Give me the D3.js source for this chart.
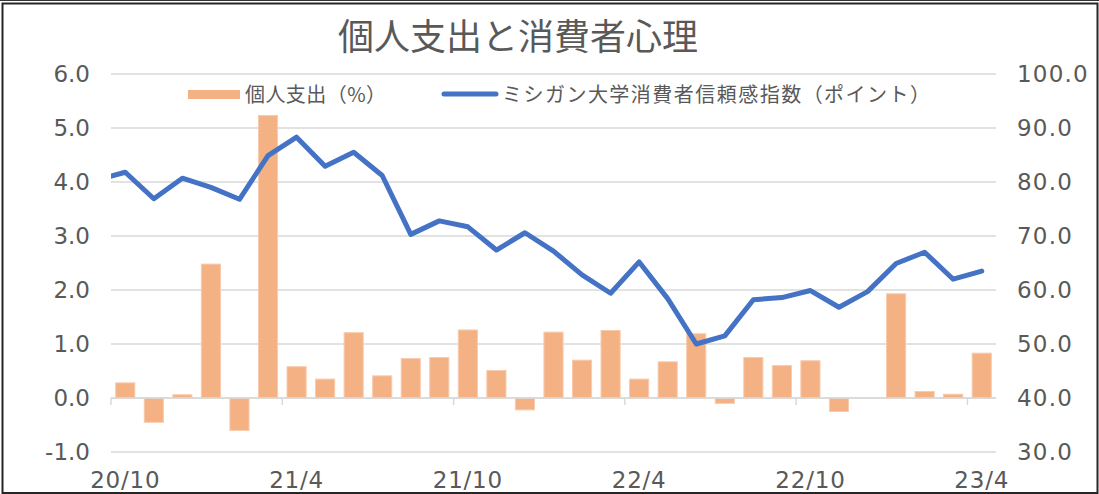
<!DOCTYPE html>
<html>
<head>
<meta charset="utf-8">
<script src="https://cdn.jsdelivr.net/npm/d3@7"></script>
<style>
  body { margin: 0; background: #fff; }
  svg { display: block; }
</style>
</head>
<body>
<svg id="chart"></svg>
<script>
// months 20/10 .. 23/4
const months = ["20/10","20/11","20/12","21/1","21/2","21/3","21/4","21/5","21/6","21/7","21/8","21/9",
  "21/10","21/11","21/12","22/1","22/2","22/3","22/4","22/5","22/6","22/7","22/8","22/9",
  "22/10","22/11","22/12","23/1","23/2","23/3","23/4"];
// 個人支出 (前月比 %)
const spending = [0.28,-0.45,0.06,2.48,-0.6,5.23,0.58,0.35,1.21,0.41,0.73,0.75,
  1.26,0.51,-0.22,1.22,0.70,1.25,0.35,0.67,1.19,-0.1,0.75,0.6,
  0.69,-0.25,0.0,1.93,0.12,0.07,0.83];
// ミシガン大学消費者信頼感指数
const sentiment = [81.8,76.9,80.7,79.0,76.8,84.9,88.3,82.9,85.5,81.2,70.3,72.8,
  71.7,67.4,70.6,67.2,62.8,59.4,65.2,58.4,50.0,51.5,58.2,58.6,
  59.9,56.8,59.7,64.9,67.0,62.0,63.5];
const sentimentPrev = 80.4; // 20/9, only the clipped segment at the left edge shows
const leftTicks = [-1,0,1,2,3,4,5,6];
const rightTicks = [30,40,50,60,70,80,90,100];
const xLabels = ["20/10","21/4","21/10","22/4","22/10","23/4"];

const W = 1099, H = 494;
const plot = {left: 111, right: 996, top: 74, bottom: 452};
const numFont = "'DejaVu Sans', sans-serif";
const jpFont = "'Noto Sans CJK JP', sans-serif";
const textColor = "#595959";

const svg = d3.select("#chart").attr("width", W).attr("height", H);

// frame
svg.append("rect").attr("x", 0).attr("y", 0).attr("width", W).attr("height", H).attr("fill", "#fff");
svg.append("line").attr("x1", 0).attr("x2", W).attr("y1", 0.5).attr("y2", 0.5)
  .attr("stroke", "#333").attr("stroke-width", 1);
svg.append("rect").attr("x", 2.5).attr("y", 3.5).attr("width", W - 4).attr("height", H - 4.5)
  .attr("fill", "none").attr("stroke", "#262626").attr("stroke-width", 2);

const x = d3.scaleBand().domain(months).range([plot.left, plot.right]).paddingInner(0.33).paddingOuter(0.165);
const step = x.step();
const xc = i => plot.left + step * (i + 0.5);
const yL = d3.scaleLinear().domain([-1, 6]).range([plot.bottom, plot.top]);
const yR = d3.scaleLinear().domain([30, 100]).range([plot.bottom, plot.top]);

// gridlines
svg.append("g").selectAll("line").data(leftTicks).join("line")
  .attr("x1", plot.left).attr("x2", plot.right)
  .attr("y1", d => yL(d)).attr("y2", d => yL(d))
  .attr("stroke", "#d9d9d9").attr("stroke-width", 1.5);

// left axis labels
svg.append("g").selectAll("text").data(leftTicks).join("text")
  .attr("x", 90).attr("y", d => yL(d)).attr("dy", "0.36em")
  .attr("text-anchor", "end")
  .attr("font-family", numFont).attr("font-size", 23).attr("fill", textColor)
  .text(d => d.toFixed(1));

// right axis labels
svg.append("g").selectAll("text").data(rightTicks).join("text")
  .attr("x", 1017).attr("y", d => yR(d)).attr("dy", "0.36em")
  .attr("text-anchor", "start").attr("letter-spacing", 1.2)
  .attr("font-family", numFont).attr("font-size", 23).attr("fill", textColor)
  .text(d => d.toFixed(1));

// bars
svg.append("g").selectAll("rect").data(spending).join("rect")
  .attr("x", (d, i) => x(months[i]))
  .attr("width", x.bandwidth())
  .attr("y", d => yL(Math.max(0, d)))
  .attr("height", d => Math.abs(yL(d) - yL(0)))
  .attr("fill", "#f4b183")
  .attr("stroke", "#f8cbad").attr("stroke-width", 1);

// category axis at 0 with tick marks
svg.append("line").attr("x1", plot.left).attr("x2", plot.right)
  .attr("y1", yL(0)).attr("y2", yL(0)).attr("stroke", "#d9d9d9").attr("stroke-width", 1.5);
const tickIdx = d3.range(0, months.length, 6);
svg.append("g").selectAll("line").data(tickIdx).join("line")
  .attr("x1", i => plot.left + step * i).attr("x2", i => plot.left + step * i)
  .attr("y1", yL(0)).attr("y2", yL(0) + 7)
  .attr("stroke", "#d9d9d9").attr("stroke-width", 1.5);

// x labels
svg.append("g").selectAll("text").data(xLabels).join("text")
  .attr("x", d => xc(months.indexOf(d))).attr("y", 488)
  .attr("text-anchor", "middle").attr("letter-spacing", 0.8)
  .attr("font-family", numFont).attr("font-size", 23).attr("fill", textColor)
  .text(d => d);

// line, clipped to plot area
svg.append("clipPath").attr("id", "clip").append("rect")
  .attr("x", plot.left).attr("y", 0).attr("width", plot.right - plot.left).attr("height", H);
const linePts = [[xc(-1), yR(sentimentPrev)]].concat(sentiment.map((v, i) => [xc(i), yR(v)]));
svg.append("path").attr("clip-path", "url(#clip)")
  .attr("d", d3.line()(linePts))
  .attr("fill", "none").attr("stroke", "#4472c4").attr("stroke-width", 5)
  .attr("stroke-linejoin", "round").attr("stroke-linecap", "round");

// title
svg.append("text").attr("x", 518).attr("y", 50).attr("text-anchor", "middle")
  .attr("font-family", jpFont).attr("font-size", 36).attr("fill", textColor)
  .text("個人支出と消費者心理");

// legend
svg.append("rect").attr("x", 188).attr("y", 90).attr("width", 52).attr("height", 9).attr("fill", "#f4b183");
svg.append("text").attr("x", 245).attr("y", 102)
  .attr("font-family", jpFont).attr("font-size", 20).attr("fill", textColor)
  .attr("textLength", 141).attr("lengthAdjust", "spacing")
  .text("個人支出（%）");
svg.append("line").attr("x1", 444).attr("x2", 496).attr("y1", 94).attr("y2", 94)
  .attr("stroke", "#4472c4").attr("stroke-width", 5).attr("stroke-linecap", "round");
svg.append("text").attr("x", 502).attr("y", 102)
  .attr("font-family", jpFont).attr("font-size", 20).attr("fill", textColor)
  .attr("textLength", 428).attr("lengthAdjust", "spacing")
  .text("ミシガン大学消費者信頼感指数（ポイント）");
</script>
</body>
</html>
